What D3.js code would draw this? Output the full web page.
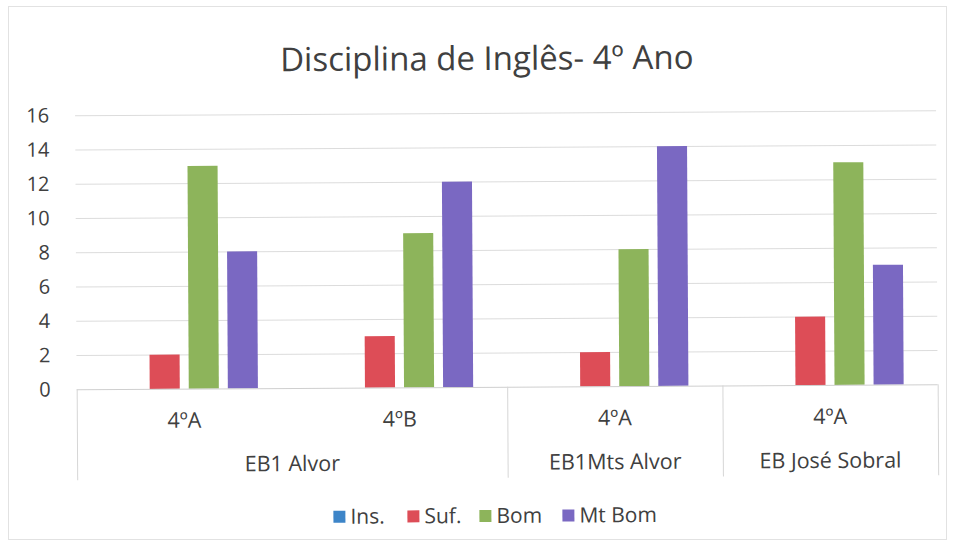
<!DOCTYPE html>
<html>
<head>
<meta charset="utf-8">
<script src="https://cdn.jsdelivr.net/npm/d3@7"></script>
<style>
  body { margin: 0; background: #fff; }
  text { font-family: "Open Sans", sans-serif; fill: #404040; }
</style>
</head>
<body>
<svg id="vis"></svg>
<script>
// data
var title = "Disciplina de Inglês- 4º Ano";
var turmas = ["4ºA", "4ºB", "4ºA", "4ºA"];
var escolas = ["EB1 Alvor", "EB1 Alvor", "EB1Mts Alvor", "EB José Sobral"];
var series = ["Ins.", "Suf.", "Bom", "Mt Bom"];
var ins = [0, 0, 0, 0];
var suf = [2, 3, 2, 4];
var bom = [13, 9, 8, 13];
var mtBom = [8, 12, 14, 7];
var yTicks = [0, 2, 4, 6, 8, 10, 12, 14, 16];
var colors = ["#3d85c8", "#dd4d57", "#8db45b", "#7a68c2"];

var values = [ins, suf, bom, mtBom];

var W = 953, H = 546;
var margin = {top: 113, right: 16, bottom: 159, left: 76};
var width = W - margin.left - margin.right,
    height = H - margin.top - margin.bottom;

var svg = d3.select("#vis").attr("width", W).attr("height", H);

// outer chart border
svg.append("rect")
    .attr("x", 8.5).attr("y", 6.5)
    .attr("width", 938).attr("height", 533)
    .attr("fill", "none").attr("stroke", "#e2e2e2");

// scan is a little tilted
var root = svg.append("g")
    .attr("transform", "rotate(-0.33," + (W / 2) + "," + (H / 2) + ")");

root.append("text")
    .attr("x", 488).attr("y", 70)
    .attr("text-anchor", "middle")
    .style("font-size", "33px")
    .text(title);

var main = root.append("g")
    .attr("transform", "translate(" + margin.left + "," + margin.top + ")");

var x0 = d3.scaleBand()
    .domain(d3.range(turmas.length))
    .range([0, width]);

var x1 = d3.scaleBand()
    .domain(d3.range(series.length))
    .range([0, x0.bandwidth()])
    .paddingInner(0.23)
    .paddingOuter(0.87);

var y = d3.scaleLinear()
    .domain([0, 16])
    .range([height, 0]);

// grid lines
main.append("g").selectAll("line")
    .data(yTicks.slice(1))
    .enter().append("line")
    .attr("x1", 0).attr("x2", width)
    .attr("y1", function(d) { return y(d) + .5; })
    .attr("y2", function(d) { return y(d) + .5; })
    .attr("stroke", "#dcdcdc");

// y axis labels
var yAxis = main.append("g")
    .call(d3.axisLeft(y).tickValues(yTicks).tickSize(0).tickPadding(26));
yAxis.select(".domain").remove();
yAxis.selectAll("text")
    .style("font-size", "20px")
    .style("font-family", "'Open Sans', sans-serif")
    .attr("fill", "#404040");

// bars
var groups = main.append("g").selectAll("g")
    .data(turmas)
    .enter().append("g")
    .attr("transform", function(d, i) { return "translate(" + x0(i) + ",0)"; });

groups.selectAll("rect")
    .data(function(d, i) { return values.map(function(s, k) { return {k: k, v: s[i]}; }); })
    .enter().append("rect")
    .attr("x", function(d) { return x1(d.k); })
    .attr("y", function(d) { return y(d.v); })
    .attr("width", x1.bandwidth())
    .attr("height", function(d) { return y(0) - y(d.v); })
    .attr("fill", function(d) { return colors[d.k]; });

// category axis
var axisDepth = 91;
main.append("line")
    .attr("x1", 0).attr("x2", width)
    .attr("y1", height + .5).attr("y2", height + .5)
    .attr("stroke", "#cfcfcf");

// dividers where the school changes, plus both ends
var dividers = [0];
escolas.forEach(function(e, i) {
    if (i > 0 && e !== escolas[i - 1]) dividers.push(x0(i));
});
dividers.push(width);

main.append("g").selectAll("line")
    .data(dividers)
    .enter().append("line")
    .attr("x1", function(d) { return d + .5; })
    .attr("x2", function(d) { return d + .5; })
    .attr("y1", height).attr("y2", height + axisDepth)
    .attr("stroke", "#d6d6d6");

main.append("g").selectAll("text")
    .data(turmas)
    .enter().append("text")
    .attr("x", function(d, i) { return x0(i) + x0.bandwidth() / 2; })
    .attr("y", height + 39)
    .attr("text-anchor", "middle")
    .style("font-size", "21.5px")
    .text(function(d) { return d; });

// school labels centred over their turmas
var schoolSpans = [];
escolas.forEach(function(e, i) {
    var last = schoolSpans[schoolSpans.length - 1];
    if (last && last.name === e) last.end = x0(i) + x0.bandwidth();
    else schoolSpans.push({name: e, start: x0(i), end: x0(i) + x0.bandwidth()});
});

main.append("g").selectAll("text")
    .data(schoolSpans)
    .enter().append("text")
    .attr("x", function(d) { return (d.start + d.end) / 2; })
    .attr("y", height + 83)
    .attr("text-anchor", "middle")
    .style("font-size", "21.5px")
    .text(function(d) { return d.name; });

// legend
var legendX = [332, 406, 478, 561];
var legend = root.append("g").selectAll("g")
    .data(series)
    .enter().append("g")
    .attr("transform", function(d, i) { return "translate(" + legendX[i] + ",516)"; });

legend.append("rect")
    .attr("x", 0).attr("y", -6)
    .attr("width", 12).attr("height", 12)
    .attr("fill", function(d, i) { return colors[i]; });

legend.append("text")
    .attr("x", 17).attr("y", 7)
    .style("font-size", "21px")
    .text(function(d) { return d; });
</script>
</body>
</html>
